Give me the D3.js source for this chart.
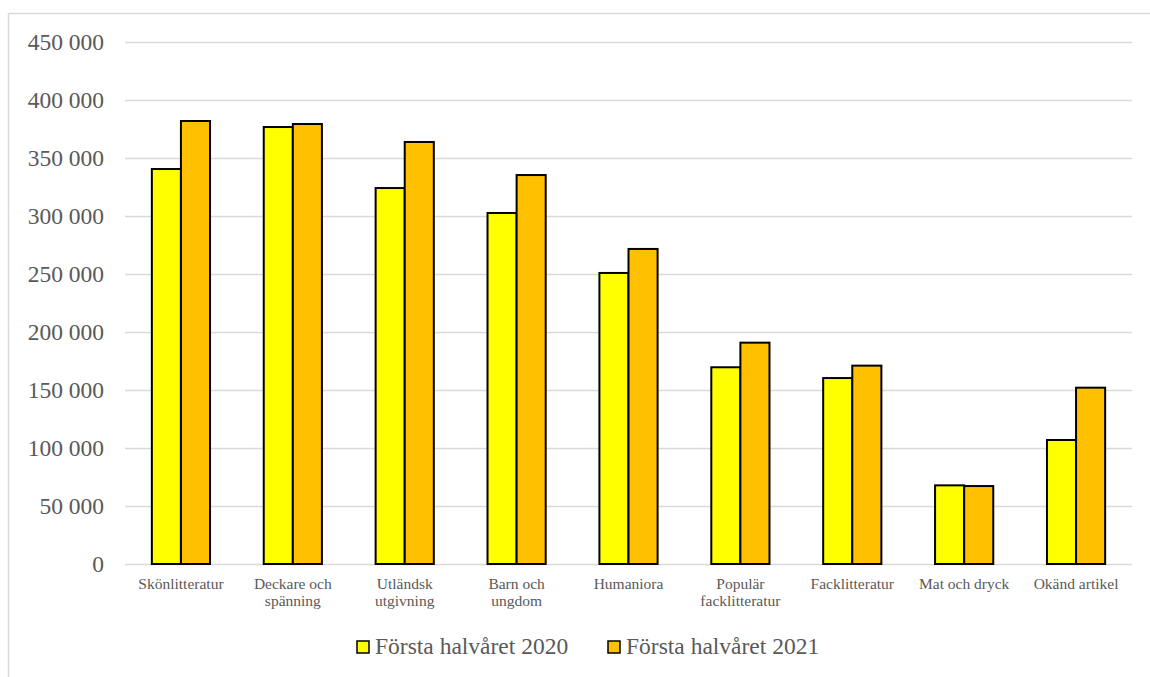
<!DOCTYPE html>
<html><head><meta charset="utf-8">
<script src="https://cdn.jsdelivr.net/npm/d3@7"></script>
<style>body{margin:0;background:#fff}svg{display:block}
svg text{font-family:"Liberation Serif","Times New Roman","DejaVu Serif",serif !important;}</style>
</head><body>
<svg id="c" width="1150" height="677"></svg>
<script>
const categories = ["Skönlitteratur","Deckare och\nspänning","Utländsk\nutgivning","Barn och\nungdom","Humaniora","Populär\nfacklitteratur","Facklitteratur","Mat och dryck","Okänd artikel"];
const series = ["Första halvåret 2020","Första halvåret 2021"];
const values2020 = [340500,376700,324100,302600,250900,169600,160300,67800,106900];
const values2021 = [381900,379300,363800,335300,271600,190800,171000,67200,152000];
const colors = ["#FFFF00","#FFC000"];
const yTicks = [0,50000,100000,150000,200000,250000,300000,350000,400000,450000];

(function(){
const svg = d3.select("#c");
const pl = 125, pr = 1132, pt = 42, pb = 564;

svg.append("rect").attr("x",8.5).attr("y",13.5).attr("width",1200).attr("height",700)
  .attr("fill","#fff").attr("stroke","#d9d9d9").attr("stroke-width",1.5);

const y = d3.scaleLinear().domain([0,450000]).range([pb,pt]);
const x = d3.scaleBand().domain(categories).range([pl,pr]).padding(0);
const groupW = x.bandwidth()*0.52;
const xs = d3.scaleBand().domain(series).range([(x.bandwidth()-groupW)/2,(x.bandwidth()+groupW)/2]).padding(0);

const fmt = v => v===0 ? "0" : d3.format(",")(v).replace(/,/g," ");

const yAxis = d3.axisLeft(y).tickValues(yTicks).tickSize(-(pr-pl)).tickFormat(fmt).tickPadding(20);
const ga = svg.append("g").attr("transform",`translate(${pl},0)`).call(yAxis);
ga.attr("font-family",null);
ga.select(".domain").remove();
ga.selectAll(".tick line").attr("stroke","#d9d9d9").attr("stroke-width",1.5);
ga.selectAll(".tick text").attr("fill","#595959").attr("font-size",23.5).attr("x",-21);

const data = [values2020, values2021];
series.forEach((s,si)=>{
  svg.append("g").selectAll("rect").data(categories).join("rect")
    .attr("x",d=>x(d)+xs(s))
    .attr("width",xs.bandwidth())
    .attr("y",(d,i)=>y(data[si][i]))
    .attr("height",(d,i)=>y(0)-y(data[si][i]))
    .attr("fill",colors[si]).attr("stroke","#000").attr("stroke-width",2);
});

const xl = svg.append("g");
categories.forEach(c=>{
  const t = xl.append("text").attr("x",x(c)+x.bandwidth()/2).attr("y",589)
    .attr("text-anchor","middle").attr("fill","#595959").attr("font-size",15.5);
  c.split("\n").forEach((ln,i)=>{
    t.append("tspan").attr("x",x(c)+x.bandwidth()/2).attr("dy",i===0?0:17).text(ln);
  });
});

const legX = [357,608];
series.forEach((s,i)=>{
  svg.append("rect").attr("x",legX[i]).attr("y",641).attr("width",12).attr("height",12)
    .attr("fill",colors[i]).attr("stroke","#000").attr("stroke-width",1.5);
  svg.append("text").attr("x",legX[i]+18).attr("y",654).attr("fill","#595959")
    .attr("font-size",23.5).text(s);
});
})();
</script>
</body></html>
